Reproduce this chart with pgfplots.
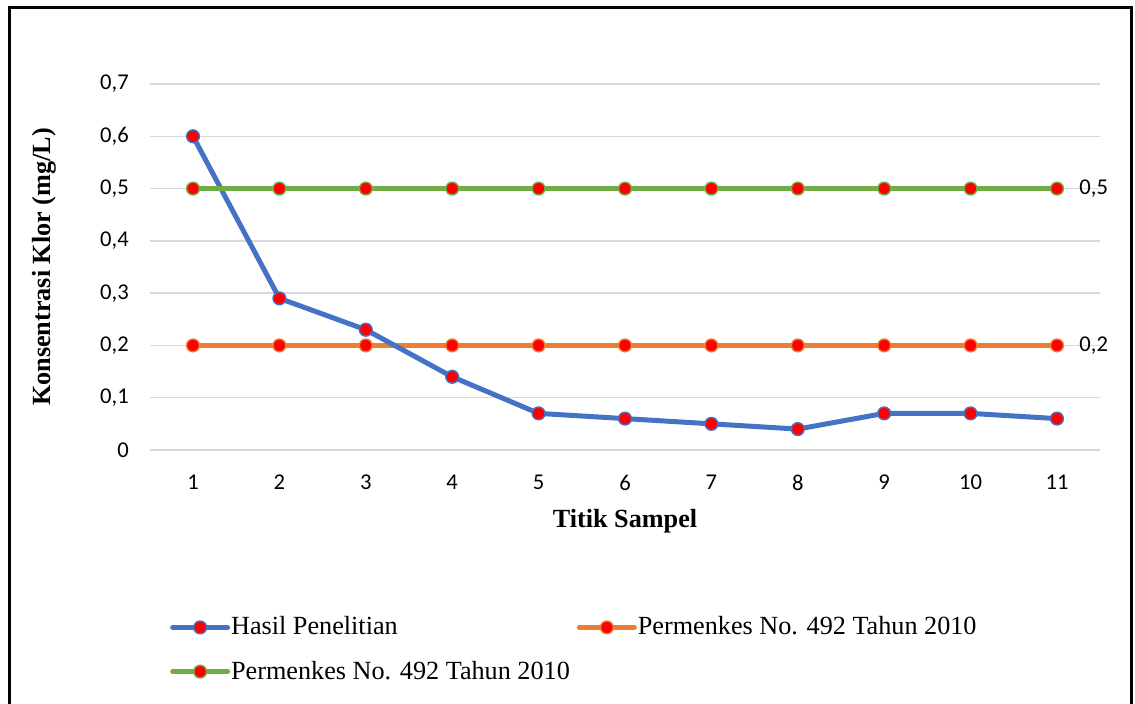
\documentclass[border=0pt]{standalone}
\usepackage{pgfplots}
\pgfplotsset{compat=1.18}
\usepackage{fontspec}
\setmainfont{Liberation Serif}
\newfontfamily\calibri{Carlito}

\definecolor{sBlue}{HTML}{4472C4}
\definecolor{sOrange}{HTML}{ED7D31}
\definecolor{sGreen}{HTML}{70AD47}
\definecolor{gridgray}{HTML}{D9D9D9}

\pgfplotsset{
  seriesBlue/.style={sBlue, mark=*, mark size=3.2pt, mark options={fill=red, draw=sBlue, line width=0.7pt}},
  seriesOrange/.style={sOrange, mark=*, mark size=3.2pt, mark options={fill=red, draw=sOrange, line width=0.7pt}},
  seriesGreen/.style={sGreen, mark=*, mark size=3.2pt, mark options={fill=red, draw=sGreen, line width=0.7pt}},
}

\begin{document}
\begin{tikzpicture}
\useasboundingbox (0,0) rectangle (567.5pt,352pt);
% outer chart frame (runs past the lower edge)
\draw[black, line width=1.5pt] (4.5pt,-10pt) -- (4.5pt,348pt) -- (565.5pt,348pt) -- (565.5pt,-10pt);
\begin{axis}[
  at={(74.9pt,127pt)}, anchor=south west,
  scale only axis,
  width=475.2pt, height=183pt,
  xmin=0.5, xmax=11.5, ymin=0, ymax=0.7,
  xtick={1,...,11},
  ytick={0,0.1,...,0.7},
  axis line style={draw=none},
  tick style={draw=none},
  ymajorgrids, grid style={gridgray, line width=0.75pt},
  ticklabel style={font=\calibri\fontsize{11.3}{13}\selectfont},
  /pgf/number format/assume math mode=true,
  /pgf/number format/use comma,
  yticklabel style={/pgf/number format/fixed, /pgf/number format/precision=1, xshift=-7pt},
  xticklabel style={yshift=-9pt},
  xlabel={\textbf{Titik Sampel}},
  ylabel={\textbf{Konsentrasi Klor (mg/L)}},
  label style={font=\fontsize{13.1}{15}\selectfont},
  xlabel style={yshift=-2.5pt},
  ylabel style={yshift=15pt},
  every axis plot/.append style={line width=2.5pt, line cap=round, line join=round},
  legend columns=2,
  legend cell align=left,
  legend style={draw=none, fill=none, inner sep=0pt,
    at={(0.021,-0.452)}, anchor=north west,
    font=\fontsize{13.1}{15}\selectfont,
    nodes={inner sep=0.5pt},
    /tikz/every even column/.append style={column sep=3pt},
    row sep=10.5pt},
  legend image code/.code={\draw[mark repeat=2,mark phase=2] plot coordinates {(0pt,0pt) (13.75pt,0pt) (27.5pt,0pt)};},
  clip=false,
]
% the standard limit 0,2 lies beneath the measured series
\addplot[seriesOrange, forget plot] coordinates {
 (1,0.2) (2,0.2) (3,0.2) (4,0.2) (5,0.2) (6,0.2) (7,0.2) (8,0.2) (9,0.2) (10,0.2) (11,0.2)};
\addplot[seriesBlue] coordinates {
 (1,0.60) (2,0.29) (3,0.23) (4,0.14) (5,0.07) (6,0.06) (7,0.05) (8,0.04) (9,0.07) (10,0.07) (11,0.06)};
\addlegendentry{Hasil Penelitian}
\addlegendimage{seriesOrange, line width=2.5pt, line cap=round}
\addlegendentry{Permenkes No. 492 Tahun 2010}
\addplot[seriesGreen] coordinates {
 (1,0.5) (2,0.5) (3,0.5) (4,0.5) (5,0.5) (6,0.5) (7,0.5) (8,0.5) (9,0.5) (10,0.5) (11,0.5)};
\addlegendentry{Permenkes No. 492 Tahun 2010}
\node[anchor=west, font=\calibri\fontsize{11.3}{13}\selectfont, inner sep=0pt] at (axis cs:11,0.5) [xshift=11pt] {0,5};
\node[anchor=west, font=\calibri\fontsize{11.3}{13}\selectfont, inner sep=0pt] at (axis cs:11,0.2) [xshift=11pt] {0,2};
\end{axis}
\end{tikzpicture}
\end{document}
